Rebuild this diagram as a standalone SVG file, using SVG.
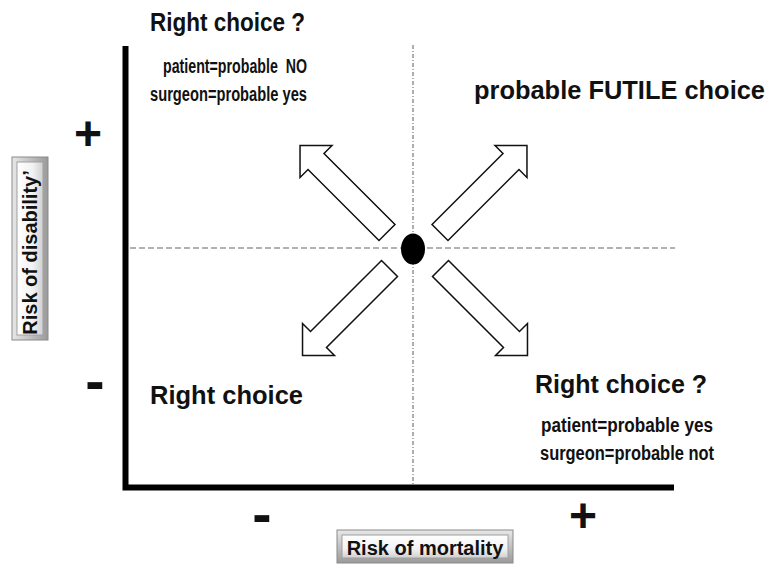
<svg xmlns="http://www.w3.org/2000/svg" width="769" height="565" viewBox="0 0 769 565">
<defs>
<style>
.t{font-family:"Liberation Sans",Arial,sans-serif;font-weight:bold;fill:#111}
.title{font-size:25px}
.sub{font-size:20px}
.sign{font-size:48px}
.minus{font-size:58px}
.arrow{fill:#fff;stroke:#111;stroke-width:1.5;stroke-linejoin:miter}
.frame{fill:url(#bev);stroke:#8a8a8a;stroke-width:1}
.face{fill:url(#face);stroke:#a0a0a0;stroke-width:1}
</style>
<linearGradient id="bev" x1="0" y1="0" x2="0" y2="1">
<stop offset="0" stop-color="#e8e8e8"/>
<stop offset="1" stop-color="#9a9a9a"/>
</linearGradient>
<linearGradient id="face" x1="0" y1="0" x2="0" y2="1">
<stop offset="0" stop-color="#ffffff"/>
<stop offset="0.6" stop-color="#f2f2f2"/>
<stop offset="1" stop-color="#d0d0d0"/>
</linearGradient>
<linearGradient id="facev" x1="0" y1="0" x2="1" y2="0">
<stop offset="0" stop-color="#ffffff"/>
<stop offset="0.6" stop-color="#f2f2f2"/>
<stop offset="1" stop-color="#d0d0d0"/>
</linearGradient>
<linearGradient id="bevv" x1="0" y1="0" x2="1" y2="0">
<stop offset="0" stop-color="#e8e8e8"/>
<stop offset="1" stop-color="#9a9a9a"/>
</linearGradient>
<path id="arr" d="M0,-11.3 H100.4 V-22.6 L123,0 L100.4,22.6 V11.3 H0 Z"/>
</defs>
<rect width="769" height="565" fill="#fff"/>

<g id="guides">
<line x1="130" y1="248" x2="675" y2="248" stroke="#666" stroke-width="1.2" stroke-dasharray="6 3"/>
<line x1="413" y1="45" x2="413" y2="487" stroke="#777" stroke-width="1.2" stroke-dasharray="4 2 1 2"/>
</g>

<g id="axes">
<path d="M125.5,46 V487.5 H674" fill="none" stroke="#000" stroke-width="6" stroke-linejoin="miter"/>
</g>

<g id="connectors">
<use href="#arr" class="arrow" transform="translate(387,232.5) rotate(-135)"/>
<use href="#arr" class="arrow" transform="translate(440,232.5) rotate(-45)"/>
<use href="#arr" class="arrow" transform="translate(389.5,268.5) rotate(135)"/>
<use href="#arr" class="arrow" transform="translate(440.5,268.5) rotate(45)"/>
</g>

<g id="center">
<ellipse cx="413" cy="249" rx="12" ry="15.5" fill="#000"/>
</g>

<g id="quadrant-top-left">
<text class="t title" x="150" y="31" textLength="155" lengthAdjust="spacingAndGlyphs">Right choice ?</text>
<text class="t sub" x="163" y="73" textLength="144" lengthAdjust="spacingAndGlyphs" xml:space="preserve">patient=probable  NO</text>
<text class="t sub" x="150" y="101" textLength="157" lengthAdjust="spacingAndGlyphs">surgeon=probable yes</text>
</g>

<g id="quadrant-top-right">
<text class="t title" x="474" y="99" textLength="291" lengthAdjust="spacingAndGlyphs">probable FUTILE choice</text>
</g>

<g id="quadrant-bottom-left">
<text class="t title" x="150" y="404" textLength="153" lengthAdjust="spacingAndGlyphs">Right choice</text>
</g>

<g id="quadrant-bottom-right">
<text class="t title" x="535" y="393" textLength="172" lengthAdjust="spacingAndGlyphs">Right choice ?</text>
<text class="t sub" x="541" y="432" textLength="172" lengthAdjust="spacingAndGlyphs">patient=probable yes</text>
<text class="t sub" x="540" y="460" textLength="174" lengthAdjust="spacingAndGlyphs">surgeon=probable not</text>
</g>

<g id="signs">
<text class="t sign" x="88" y="150" text-anchor="middle">+</text>
<text class="t minus" x="95" y="401" text-anchor="middle">-</text>
<text class="t minus" x="262" y="534" text-anchor="middle">-</text>
<text class="t sign" x="583" y="532" text-anchor="middle">+</text>
</g>

<g id="label-disability">
<rect class="frame" x="12" y="157" width="36" height="183" style="fill:url(#bevv)"/>
<rect x="17" y="162" width="26" height="173" fill="url(#facev)" stroke="#a0a0a0"/>
<text class="t" x="37" y="252.5" text-anchor="middle" font-size="20" transform="rotate(-90 37 252.5)">Risk of disability’</text>
</g>

<g id="label-mortality">
<rect class="frame" x="337" y="530" width="176" height="33"/>
<rect class="face" x="342" y="535" width="166" height="23"/>
<text class="t" x="425" y="555" text-anchor="middle" font-size="20">Risk of mortality</text>
</g>
</svg>
